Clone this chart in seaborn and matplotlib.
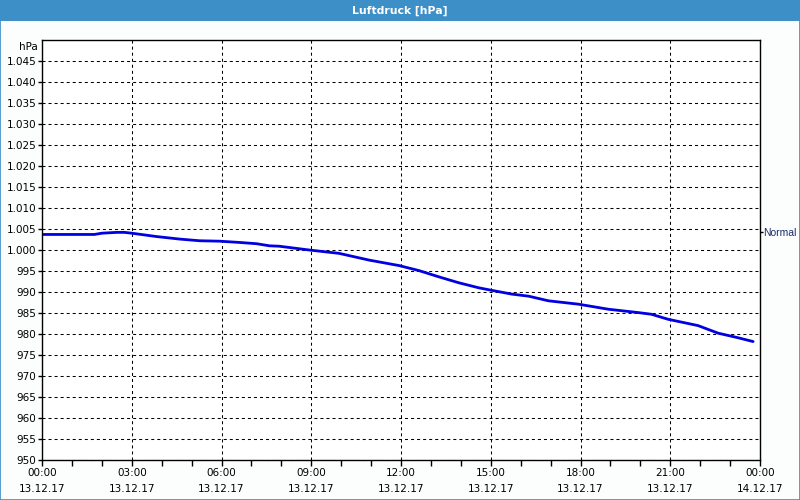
import matplotlib
matplotlib.use("Agg")
import matplotlib.pyplot as plt
import seaborn as sns
import pandas as pd
from matplotlib.patches import Rectangle
from matplotlib.ticker import MultipleLocator, FuncFormatter

# ---- data ----
hours = [0.0, 1.0, 1.75, 2.0, 2.5, 2.75, 3.0, 3.83, 4.6, 5.27, 5.93, 6.6, 7.17, 7.6,
         7.93, 8.93, 9.93, 10.93, 11.93, 12.6, 13.27, 13.93, 14.6, 15.03, 15.7, 16.27,
         16.93, 17.93, 18.93, 19.93, 20.37, 20.93, 21.93, 22.6, 23.27, 23.77]
pressure = [1003.7, 1003.7, 1003.7, 1004.0, 1004.2, 1004.2, 1004.0, 1003.2, 1002.6,
            1002.2, 1002.1, 1001.8, 1001.5, 1001.0, 1000.9, 1000.0, 999.2, 997.6, 996.3,
            995.1, 993.6, 992.2, 991.0, 990.4, 989.5, 989.0, 987.9, 987.1, 985.9, 985.1,
            984.7, 983.5, 982.0, 980.2, 979.1, 978.2]
tick_hours = [0, 3, 6, 9, 12, 15, 18, 21, 24]
tick_labels = ["00:00\n13.12.17", "03:00\n13.12.17", "06:00\n13.12.17", "09:00\n13.12.17",
               "12:00\n13.12.17", "15:00\n13.12.17", "18:00\n13.12.17", "21:00\n13.12.17",
               "00:00\n14.12.17"]
normal_value = 1004.2
title = "Luftdruck [hPa]"

df = pd.DataFrame({"h": hours, "p": pressure})

sns.set_theme(style="white")
plt.rcParams["font.family"] = ["DejaVu Sans"]

bg = "#fbfefc"
bar = "#3c8fc7"
fig = plt.figure(figsize=(8, 5), dpi=100, facecolor=bg)

# title bar and frame
fig.patches.append(Rectangle((0, 0.958), 1, 0.042, transform=fig.transFigure,
                             facecolor=bar, edgecolor="none", zorder=0))
fig.patches.append(Rectangle((0.0006, 0.001), 0.9988, 0.998, transform=fig.transFigure,
                             facecolor="none", edgecolor=bar, lw=1.2, zorder=0))
fig.text(0.5, 0.979, title, color="white", fontsize=7.8, fontweight="bold",
         ha="center", va="center")

ax = fig.add_axes([0.0525, 0.08, 0.8975, 0.84])
ax.set_facecolor("white")
sns.lineplot(data=df, x="h", y="p", ax=ax, color="#0000e0", lw=2.0)

ax.set_xlim(0, 24)
ax.set_ylim(950, 1050)
ax.set_xticks(tick_hours)
ax.set_xticklabels(tick_labels)
ax.xaxis.set_minor_locator(MultipleLocator(1))
ax.set_yticks(list(range(950, 1050, 5)))
ax.yaxis.set_major_formatter(FuncFormatter(
    lambda v, p: f"{v/1000:.3f}" if v >= 1000 else f"{int(v)}"))
ax.set_xlabel("")
ax.set_ylabel("")

ax.tick_params(axis="x", which="both", direction="out", length=4, width=1,
               color="black", labelsize=7.5, pad=2, bottom=True)
ax.tick_params(axis="y", which="major", direction="out", length=3, width=1,
               color="black", labelsize=7.5, pad=1, left=True)
for lab in ax.get_xticklabels() + ax.get_yticklabels():
    lab.set_color("black")
    lab.set_linespacing(1.7)

ax.grid(True, which="major", color="black", lw=0.75, linestyle=(0, (2.9, 2.9)))
for s in ax.spines.values():
    s.set_visible(True)
    s.set_color("black")
    s.set_linewidth(1)

ax.text(-0.006, 1.0 - 0.005, "hPa", transform=ax.transAxes, ha="right", va="top",
        fontsize=7.5, color="black")

# right-side "Normal" marker
ax2 = ax.twinx()
ax2.set_ylim(950, 1050)
ax2.set_yticks([normal_value])
ax2.set_yticklabels(["Normal"])
ax2.tick_params(axis="y", direction="out", length=2, width=1, color="black",
                labelsize=7.5, labelcolor="#1c2a6a", pad=0.5)
for lab in ax2.get_yticklabels():
    lab.set_family(["Liberation Sans", "DejaVu Sans"])
ax2.grid(False)
for s in ax2.spines.values():
    s.set_visible(False)

fig.savefig("out.png", dpi=100, facecolor=bg)
